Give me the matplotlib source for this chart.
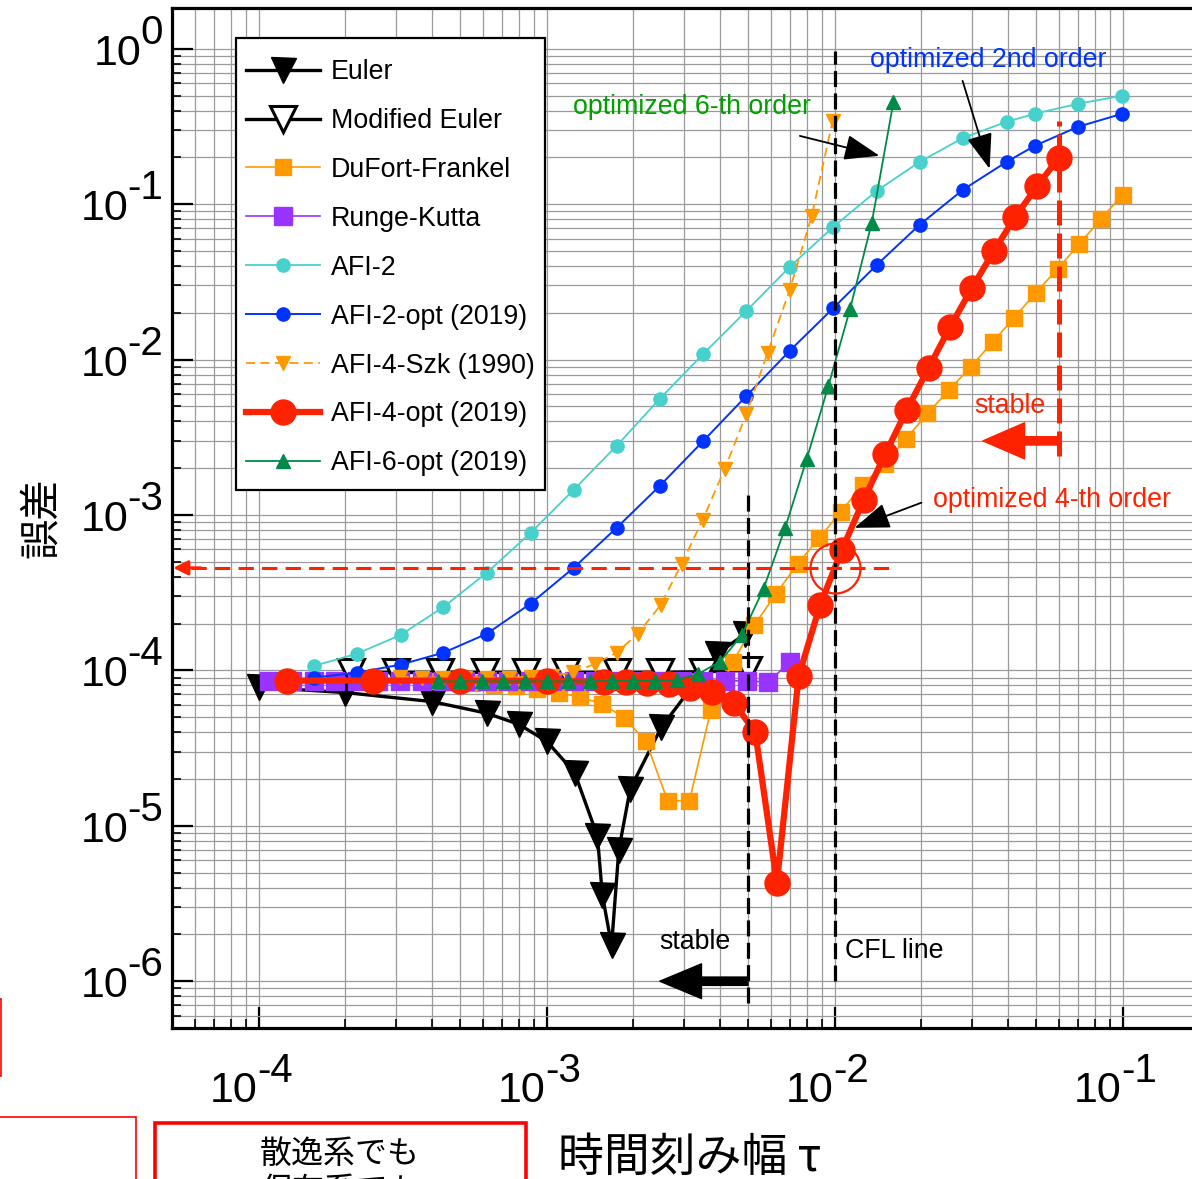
import numpy as np
import matplotlib
matplotlib.use("Agg")
import matplotlib.pyplot as plt
from matplotlib.patches import Rectangle
from matplotlib.ticker import LogLocator, NullFormatter, FixedLocator

LATIN = ['Liberation Sans', 'DejaVu Sans']
CJK = ['Noto Sans CJK JP', 'DejaVu Sans']
plt.rcParams['font.family'] = LATIN

# ---------------- data ----------------
euler_x = [1e-4, 2e-4, 4e-4, 6.2e-4, 8e-4, 1e-3, 1.25e-3, 1.5e-3, 1.56e-3, 1.68e-3,
           1.78e-3, 1.95e-3, 2.5e-3, 3.9e-3, 4.9e-3]
euler_y = [7.8e-5, 7.2e-5, 6.3e-5, 5.3e-5, 4.5e-5, 3.5e-5, 2.2e-5, 8.6e-6, 3.6e-6, 1.7e-6,
           7.0e-6, 1.73e-5, 4.3e-5, 1.28e-4, 1.72e-4]

mod_x = [2.1e-4, 3.0e-4, 4.25e-4, 6.1e-4, 8.5e-4, 1.17e-3, 1.75e-3, 2.47e-3, 3.48e-3, 5.0e-3]
mod_y = [9.7e-5, 9.7e-5, 9.7e-5, 9.7e-5, 9.7e-5, 9.7e-5, 9.7e-5, 9.7e-5, 9.8e-5, 1.0e-4]

df_x = [3.91e-4, 4.65e-4, 5.52e-4, 6.57e-4, 7.81e-4, 9.29e-4, 1.105e-3, 1.31e-3, 1.56e-3,
        1.86e-3, 2.21e-3, 2.63e-3, 3.13e-3, 3.72e-3, 4.42e-3, 5.26e-3, 6.25e-3, 7.43e-3,
        8.84e-3, 1.05e-2, 1.25e-2, 1.49e-2, 1.77e-2, 2.10e-2, 2.50e-2, 2.97e-2, 3.54e-2,
        4.20e-2, 5.0e-2, 5.95e-2, 7.07e-2, 8.41e-2, 0.1]
df_y = [8.5e-5, 8.4e-5, 8.3e-5, 8.1e-5, 7.9e-5, 7.6e-5, 7.2e-5, 6.7e-5, 6.1e-5,
        4.95e-5, 3.5e-5, 1.45e-5, 1.45e-5, 5.6e-5, 1.13e-4, 1.96e-4, 3.1e-4, 4.85e-4,
        7.1e-4, 1.05e-3, 1.56e-3, 2.13e-3, 3.1e-3, 4.5e-3, 6.4e-3, 9.0e-3, 1.3e-2,
        1.86e-2, 2.7e-2, 3.85e-2, 5.55e-2, 8.05e-2, 0.115]

rk_x = [1.09e-4, 1.3e-4, 1.55e-4, 1.84e-4, 2.19e-4, 2.6e-4, 3.09e-4, 3.68e-4, 4.38e-4,
        5.2e-4, 6.19e-4, 7.36e-4, 8.75e-4, 1.04e-3, 1.24e-3, 1.47e-3, 1.75e-3, 2.08e-3,
        2.48e-3, 2.94e-3, 3.5e-3, 4.16e-3, 4.95e-3, 5.89e-3, 7.0e-3]
rk_y = [8.6e-5, 8.6e-5, 8.6e-5, 8.6e-5, 8.6e-5, 8.6e-5, 8.6e-5, 8.6e-5, 8.6e-5,
        8.6e-5, 8.6e-5, 8.6e-5, 8.6e-5, 8.6e-5, 8.6e-5, 8.6e-5, 8.6e-5, 8.6e-5,
        8.6e-5, 8.6e-5, 8.6e-5, 8.6e-5, 8.55e-5, 8.4e-5, 1.14e-4]

afi2_x = [1.56e-4, 2.19e-4, 3.11e-4, 4.38e-4, 6.19e-4, 8.79e-4, 1.24e-3, 1.75e-3, 2.47e-3,
          3.5e-3, 4.94e-3, 6.98e-3, 9.9e-3, 1.4e-2, 1.97e-2, 2.79e-2, 3.95e-2, 4.96e-2,
          7.0e-2, 9.96e-2]
afi2_y = [1.07e-4, 1.28e-4, 1.69e-4, 2.56e-4, 4.25e-4, 7.67e-4, 1.45e-3, 2.79e-3, 5.6e-3,
          1.09e-2, 2.06e-2, 3.95e-2, 7.16e-2, 0.122, 0.187, 0.267, 0.339, 0.382,
          0.443, 0.499]

afi2opt_x = [1.56e-4, 2.19e-4, 3.11e-4, 4.38e-4, 6.19e-4, 8.79e-4, 1.24e-3, 1.75e-3, 2.47e-3,
             3.5e-3, 4.94e-3, 6.98e-3, 9.9e-3, 1.4e-2, 1.97e-2, 2.79e-2, 3.95e-2, 4.96e-2,
             7.0e-2, 9.96e-2]
afi2opt_y = [9.0e-5, 9.66e-5, 1.09e-4, 1.30e-4, 1.72e-4, 2.69e-4, 4.57e-4, 8.28e-4, 1.54e-3,
             3.0e-3, 5.85e-3, 1.14e-2, 2.15e-2, 4.07e-2, 7.36e-2, 0.124, 0.187, 0.238,
             0.315, 0.382]

szk_x = [3.09e-4, 3.68e-4, 4.38e-4, 5.19e-4, 6.19e-4, 7.38e-4, 8.8e-4, 1.04e-3, 1.23e-3,
         1.47e-3, 1.75e-3, 2.07e-3, 2.49e-3, 2.94e-3, 3.48e-3, 4.15e-3, 4.94e-3, 5.85e-3,
         6.98e-3, 8.32e-3, 9.84e-3]
szk_y = [9.1e-5, 9.0e-5, 9.0e-5, 9.0e-5, 9.0e-5, 9.0e-5, 9.1e-5, 9.2e-5, 9.7e-5,
         1.10e-4, 1.30e-4, 1.72e-4, 2.64e-4, 4.85e-4, 9.3e-4, 1.98e-3, 4.48e-3, 1.11e-2,
         2.81e-2, 8.4e-2, 0.344]

afi4opt_x = [1.25e-4, 2.5e-4, 5e-4, 1e-3, 1.58e-3, 1.88e-3, 2.23e-3, 2.65e-3, 3.15e-3,
             3.75e-3, 4.46e-3, 5.3e-3, 6.3e-3, 7.5e-3, 8.9e-3, 1.06e-2, 1.26e-2, 1.5e-2,
             1.78e-2, 2.12e-2, 2.52e-2, 3.0e-2, 3.57e-2, 4.24e-2, 5.05e-2, 6.0e-2]
afi4opt_y = [8.6e-5, 8.6e-5, 8.6e-5, 8.55e-5, 8.45e-5, 8.45e-5, 8.3e-5, 8.2e-5, 7.7e-5,
             7.3e-5, 6.2e-5, 4.0e-5, 4.3e-6, 9.2e-5, 2.64e-4, 5.97e-4, 1.25e-3, 2.48e-3,
             4.75e-3, 8.86e-3, 1.63e-2, 2.9e-2, 5.0e-2, 8.3e-2, 0.131, 0.199]

afi6opt_x = [4.2e-4, 5e-4, 5.95e-4, 7.07e-4, 8.4e-4, 1e-3, 1.19e-3, 1.41e-3, 1.68e-3, 2e-3,
             2.38e-3, 2.83e-3, 3.36e-3, 4e-3, 4.76e-3, 5.66e-3, 6.73e-3, 8e-3, 9.51e-3,
             1.131e-2, 1.345e-2, 1.6e-2]
afi6opt_y = [8.5e-5, 8.5e-5, 8.5e-5, 8.5e-5, 8.5e-5, 8.5e-5, 8.5e-5, 8.5e-5, 8.55e-5, 8.55e-5,
             8.6e-5, 8.7e-5, 9.5e-5, 1.14e-4, 1.69e-4, 3.35e-4, 8.27e-4, 2.3e-3, 6.78e-3,
             2.12e-2, 7.6e-2, 0.456]

labels = ['Euler', 'Modified Euler', 'DuFort-Frankel', 'Runge-Kutta', 'AFI-2',
          'AFI-2-opt (2019)', 'AFI-4-Szk (1990)', 'AFI-4-opt (2019)', 'AFI-6-opt (2019)']

x_major = [1e-4, 1e-3, 1e-2, 1e-1]
x_exp = ['-4', '-3', '-2', '-1']
y_major = [1e-6, 1e-5, 1e-4, 1e-3, 1e-2, 1e-1, 1e0]
y_exp = ['-6', '-5', '-4', '-3', '-2', '-1', '0']

# reference lines of the annotation
euler_stable_tau = 0.005
cfl_tau = 0.01
afi4_stable_tau = 0.06
target_err = 4.57e-4

# ---------------- figure ----------------
W, H = 1192, 1179
PT = 0.72  # px -> pt at 100 dpi
fig = plt.figure(figsize=(W / 100, H / 100), dpi=100)


def fx(px):
    return px / W


def fy(py):
    return 1 - py / H


ax = fig.add_axes([fx(172), fy(1028), (1220 - 172) / W, (1028 - 8) / H])
ax.set_xscale('log')
ax.set_yscale('log')
ax.set_xlim(5e-5, 0.2177)
ax.set_ylim(5e-7, 1.83)

ax.xaxis.set_major_locator(FixedLocator(x_major))
ax.yaxis.set_major_locator(FixedLocator(y_major))
ax.xaxis.set_minor_locator(LogLocator(base=10, subs=np.arange(2, 10), numticks=50))
ax.yaxis.set_minor_locator(LogLocator(base=10, subs=np.arange(2, 10), numticks=50))
for a in (ax.xaxis, ax.yaxis):
    a.set_major_formatter(NullFormatter())
    a.set_minor_formatter(NullFormatter())

ax.grid(True, which='both', color='#9a9a9a', lw=0.9)
ax.set_axisbelow(True)
ax.tick_params(which='major', direction='in', length=15, width=1.6, top=False, right=False)
ax.tick_params(which='minor', direction='in', length=6.5, width=1.2, top=False, right=False)
for s in ax.spines.values():
    s.set_linewidth(2.3)

RED = '#ff2200'
ORANGE = '#ff9900'

ax.plot(euler_x, euler_y, color='black', lw=2.4, marker='v', ms=18, mfc='black',
        mec='black', label=labels[0])
ax.plot(mod_x, mod_y, color='black', lw=2.4, marker='v', ms=19, mfc='white',
        mec='black', mew=2.2, label=labels[1])
ax.plot(df_x, df_y, color=ORANGE, lw=1.2, marker='s', ms=11, mec=ORANGE, label=labels[2])
ax.plot(rk_x, rk_y, color='#9933ff', lw=1.2, marker='s', ms=13.5, mec='#9933ff', label=labels[3])
ax.plot(afi2_x, afi2_y, color='#48d1cc', lw=1.3, marker='o', ms=9.5, mec='#48d1cc', label=labels[4])
ax.plot(afi2opt_x, afi2opt_y, color='#0033ff', lw=1.4, marker='o', ms=9.5, mec='#0033ff',
        label=labels[5])
ax.plot(szk_x, szk_y, color=ORANGE, lw=1.3, ls=(0, (5, 3)), marker='v', ms=10, mec=ORANGE,
        label=labels[6])
ax.plot(afi4opt_x, afi4opt_y, color=RED, lw=4.5, marker='o', ms=18, mec=RED, label=labels[7])
ax.plot(afi6opt_x, afi6opt_y, color='#008a48', lw=1.3, marker='^', ms=10, mec='#008a48',
        label=labels[8])

# ---------------- annotations ----------------
ax.plot([euler_stable_tau, euler_stable_tau], [7.2e-7, 1.43e-3], color='black', lw=2.3,
        ls=(0, (5, 2)), zorder=6)
ax.plot([cfl_tau, cfl_tau], [1e-6, 0.97], color='black', lw=2.3, ls=(0, (5, 2)), zorder=6)
ax.plot([afi4_stable_tau, afi4_stable_tau], [2.4e-3, 0.344], color=RED, lw=3.6,
        ls=(0, (5, 1.6)), zorder=6)
ax.plot([5.8e-5, 0.016], [target_err, target_err], color=RED, lw=2.2, ls=(0, (5, 2.7)), zorder=6)
ax.annotate('', xy=(5.05e-5, target_err), xytext=(6.3e-5, target_err),
            arrowprops=dict(arrowstyle='-|>', color=RED, lw=2.2, mutation_scale=22,
                            shrinkA=0, shrinkB=0), zorder=6)
ax.plot([cfl_tau], [target_err], marker='o', ms=36, mfc='none', mec=RED, mew=1.6, zorder=6)

ANN_FS = 19.3
ax.annotate('', xy=(2.47e-3, 1e-6), xytext=(euler_stable_tau, 1e-6),
            arrowprops=dict(arrowstyle='simple,head_length=1.5,head_width=1.25,tail_width=0.3',
                            fc='black', ec='black', mutation_scale=20, shrinkA=0, shrinkB=0),
            zorder=6)
ax.text(2.47e-3, 1.615e-6, 'stable', fontsize=ANN_FS, va='baseline', ha='left')
ax.text(1.084e-2, 1.42e-6, 'CFL line', fontsize=ANN_FS, va='baseline', ha='left')

ax.annotate('', xy=(0.0327, 3.0e-3), xytext=(afi4_stable_tau, 3.0e-3),
            arrowprops=dict(arrowstyle='simple,head_length=1.5,head_width=1.3,tail_width=0.3',
                            fc=RED, ec=RED, mutation_scale=20, shrinkA=0, shrinkB=0), zorder=6)
ax.text(0.0306, 4.55e-3, 'stable', fontsize=ANN_FS, va='baseline', ha='left', color=RED)

arw = dict(arrowstyle='-|>,head_length=1.1,head_width=0.4', color='black', lw=1.3,
           mutation_scale=20, shrinkA=0, shrinkB=0)
ax.text(1.23e-3, 0.382, 'optimized 6-th order', fontsize=ANN_FS, color='#00a000',
        va='baseline', ha='left')
ax.annotate('', xy=(0.0143, 0.205), xytext=(0.00757, 0.275), arrowprops=arw, zorder=6)
ax.text(1.324e-2, 0.766, 'optimized 2nd order', fontsize=ANN_FS, color='#0033ff',
        va='baseline', ha='left')
ax.annotate('', xy=(0.0345, 0.169), xytext=(0.0278, 0.622), arrowprops=arw, zorder=6)
ax.text(2.19e-2, 1.13e-3, 'optimized 4-th order', fontsize=ANN_FS, color=RED,
        va='baseline', ha='left')
ax.annotate('', xy=(0.01172, 8.27e-4), xytext=(0.02, 1.2e-3), arrowprops=arw, zorder=6)

# ---------------- tick labels (10 with raised exponent) ----------------
TICK_FS = 31
SUP_FS = 29
for v, e in zip(x_major, x_exp):
    ax.annotate('10', xy=(v, 0), xycoords=('data', 'axes fraction'), xytext=(-1 * PT, -63 * PT),
                textcoords='offset points', ha='right', va='center', fontsize=TICK_FS,
                annotation_clip=False)
    ax.annotate(e, xy=(v, 0), xycoords=('data', 'axes fraction'), xytext=(-1 * PT, -43 * PT),
                textcoords='offset points', ha='left', va='center', fontsize=SUP_FS,
                annotation_clip=False)
for v, e in zip(y_major, y_exp):
    sup = ax.annotate(e, xy=(0, v), xycoords=('axes fraction', 'data'), xytext=(-9 * PT, 16 * PT),
                      textcoords='offset points', ha='right', va='center', fontsize=SUP_FS,
                      annotation_clip=False)
    ax.annotate('10', xy=(0, 0.5), xycoords=sup, xytext=(1 * PT, -21 * PT),
                textcoords='offset points', ha='right', va='center', fontsize=TICK_FS,
                annotation_clip=False)

# axis labels
ax.set_ylabel('誤差', family=CJK, fontsize=29)
ax.yaxis.set_label_coords((62 - 172) / 1048, 0.5)
ax.set_xlabel('時間刻み幅 τ', family=CJK, fontsize=33)
ax.xaxis.set_label_coords((690 - 172) / 1048, -(1133 - 1028) / 1020)

# legend: white boxed frame at its exact place, entries placed inside it
frame = Rectangle((fx(236), fy(490)), (545 - 236) / W, (490 - 38) / H, transform=fig.transFigure,
                  fc='white', ec='black', lw=1.6, zorder=9, clip_on=False)
ax.add_patch(frame)
leg = ax.legend(loc='upper left', bbox_to_anchor=(fx(246), fy(59)), bbox_transform=fig.transFigure,
                borderaxespad=0, fontsize=19.3, frameon=False, handlelength=2.76,
                handletextpad=0.41, labelspacing=0.855, borderpad=0, numpoints=1)
leg.set_zorder(10)

# ---------------- surrounding slide boxes ----------------
def box(x0, y0, x1, y1, lw):
    fig.add_artist(Rectangle((fx(x0), fy(y1)), (x1 - x0) / W, (y1 - y0) / H,
                             transform=fig.transFigure, fill=False, ec='#ff0000', lw=lw,
                             clip_on=False))


box(-60, 999, 1, 1076, 1.2)
box(-60, 1117, 136, 1260, 1.2)
box(155, 1123, 526, 1260, 2.6)
fig.text(fx(340), fy(1200), '散逸系でも\n保存系でも', family=CJK, fontsize=23, ha='center',
         va='baseline', linespacing=1.2)

fig.savefig('out.png', dpi=100)
